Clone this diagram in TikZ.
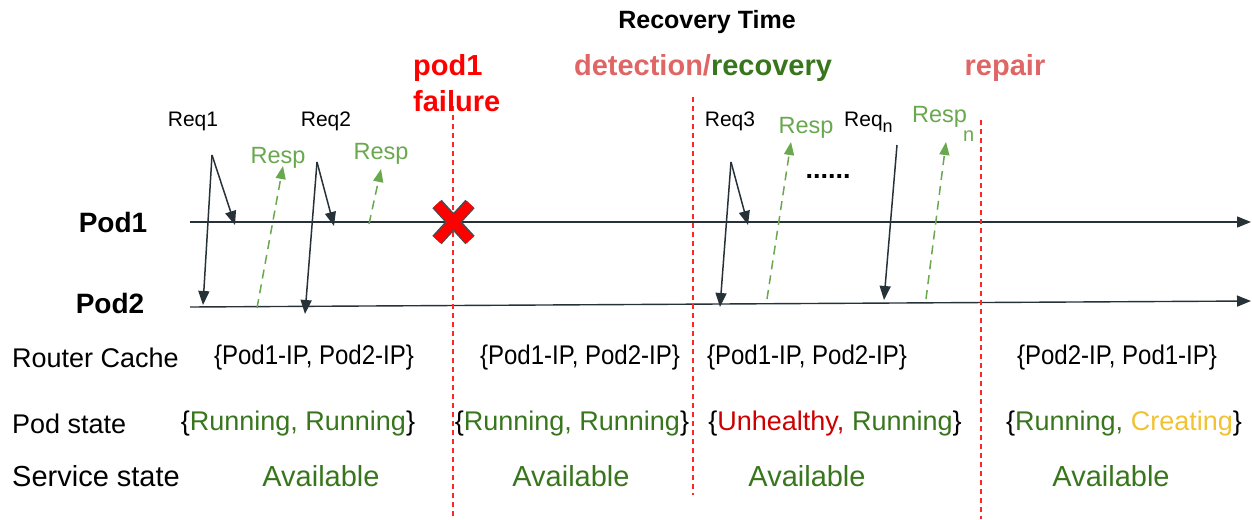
\documentclass[tikz,border=0pt]{standalone}
\usepackage{fontspec}
\usepackage{graphicx}
\setmainfont{Liberation Sans}
\usetikzlibrary{arrows.meta}
\definecolor{axis}{HTML}{263238}
\definecolor{respgreen}{HTML}{6AA84F}
\definecolor{okgreen}{HTML}{38761D}
\definecolor{pink}{HTML}{E06666}
\definecolor{failred}{HTML}{FF0000}
\definecolor{badred}{HTML}{CC0000}
\definecolor{ylw}{HTML}{F1C232}
\newcommand{\fs}[1]{\fontsize{#1}{#1}\selectfont}
\newcommand{\narrowtxt}[1]{\scalebox{0.89}[1]{#1}}
\begin{document}
\begin{tikzpicture}[x=1pt,y=-1pt,
  row/.style={inner sep=0pt, font=\fs{27}},
  iprow/.style={inner sep=0pt, font=\fs{27}},
  big/.style={inner sep=0pt, font=\fs{29}\bfseries},
  small/.style={inner sep=0pt, font=\fs{21}},
  respl/.style={inner sep=0pt, font=\fs{23.5}, text=respgreen},
  podl/.style={inner sep=0pt, font=\fs{28}\bfseries},
  timeline/.style={draw=axis, line width=1.4pt, -{Triangle[length=14pt,width=11pt]}},
  reqarrow/.style={draw=axis, line width=1.5pt, -{Triangle[length=14pt,width=11pt]}},
  resparrow/.style={draw=respgreen, line width=1.5pt, dash pattern=on 9pt off 6pt, -{Triangle[length=13pt,width=10pt]}},
  phase/.style={draw=failred!85, line width=1.2pt, dash pattern=on 5pt off 4pt}
]
\useasboundingbox (0,0) rectangle (1252,519);

% timelines
\coordinate (p1s) at (190,222);
\coordinate (p1e) at (1251,222);
\coordinate (p2s) at (190,307);
\coordinate (p2e) at (1251,301);
\draw[timeline] (p1s) -- (p1e);
\draw[timeline] (p2s) -- (p2e);
\node[podl] (pod1) at (113,222) {Pod1};
\node[podl] (pod2) at (110,303) {Pod2};

% phase separators
\coordinate (s1t) at (453,106); \coordinate (s1b) at (453,519);
\coordinate (s2t) at (693,97);  \coordinate (s2b) at (693,495);
\coordinate (s3t) at (981,120); \coordinate (s3b) at (981,519);
\draw[phase] (s1t) -- (s1b);
\draw[phase] (s2t) -- (s2b);
\draw[phase] (s3t) -- (s3b);

% headings
\node[inner sep=0pt, font=\fs{25}\bfseries] (rt) at (707,22) {Recovery Time};
\node[big, text=failred, anchor=west] (pf1) at (413,68) {pod1};
\node[big, text=failred, anchor=west] (pf2) at (413,101) {failure};
\node[big] (dr) at (703,68) {\textcolor{pink}{detection/}\textcolor{okgreen}{recovery}};
\node[big, text=pink] (rep) at (1005,68) {repair};

% red X
\coordinate (xa) at (437,204); \coordinate (xb) at (470,240);
\coordinate (xc) at (470,204); \coordinate (xd) at (437,240);
\draw[line width=12.5pt, draw=black!70] (xa) -- (xb) (xc) -- (xd);
\draw[line width=9.5pt, draw=failred] (xa) -- (xb) (xc) -- (xd);

% Req1
\node[small] (req1) at (193,121) {Req1};
\coordinate (r1t) at (212,155);
\coordinate (r1a) at (235,225);
\coordinate (r1b) at (203,305);
\draw[reqarrow] (r1t) -- (r1a);
\draw[reqarrow] (r1t) -- (r1b);
\node[respl] (resp1) at (278,158) {Resp};
\coordinate (rs1s) at (257,308);
\coordinate (rs1e) at (283,166);
\draw[resparrow] (rs1s) -- (rs1e);

% Req2
\node[small] (req2) at (326,121) {Req2};
\coordinate (r2t) at (317,162);
\coordinate (r2a) at (334,226);
\coordinate (r2b) at (305,314);
\draw[reqarrow] (r2t) -- (r2a);
\draw[reqarrow] (r2t) -- (r2b);
\node[respl] (resp2) at (381,154) {Resp};
\coordinate (rs2s) at (369,224);
\coordinate (rs2e) at (381,169);
\draw[resparrow] (rs2s) -- (rs2e);

% Req3
\node[small] (req3) at (730,121) {Req3};
\coordinate (r3t) at (731,162);
\coordinate (r3a) at (748,225);
\coordinate (r3b) at (720,307);
\draw[reqarrow] (r3t) -- (r3a);
\draw[reqarrow] (r3t) -- (r3b);
\node[respl] (resp3) at (806,128) {Resp};
\coordinate (rs3s) at (767,299);
\coordinate (rs3e) at (791,142);
\draw[resparrow] (rs3s) -- (rs3e);

\node[inner sep=0pt, font=\fs{27}\bfseries] (dots) at (828,176) {......};

% Req n
\node[small, anchor=west] (reqn) at (844,122) {Req\raisebox{-0.3em}{\fs{18}n}};
\coordinate (rnt) at (897,145);
\coordinate (rnb) at (884,300);
\draw[reqarrow] (rnt) -- (rnb);
\node[respl, anchor=west] (respn) at (912,124) {Resp\hspace{-4pt}\raisebox{-0.8em}{\fs{20}n}};
\coordinate (rsns) at (926,299);
\coordinate (rsne) at (946,142);
\draw[resparrow] (rsns) -- (rsne);

% rows
\node[row, anchor=west] (rc) at (12,358) {Router Cache};
\node[row, anchor=west] (ps) at (12,424) {Pod state};
\node[row, anchor=west, font=\fs{29}] (ss) at (12,476) {Service state};

\node[iprow] (rc1) at (314,358) {\narrowtxt{\{Pod1-IP, Pod2-IP\}}};
\node[iprow] (rc2) at (580,358) {\narrowtxt{\{Pod1-IP, Pod2-IP\}}};
\node[iprow] (rc3) at (807,358) {\narrowtxt{\{Pod1-IP, Pod2-IP\}}};
\node[iprow] (rc4) at (1117,358) {\narrowtxt{\{Pod2-IP, Pod1-IP\}}};

\node[row] (st1) at (298,424) {\{\textcolor{okgreen}{Running, Running}\}};
\node[row] (st2) at (572,424) {\{\textcolor{okgreen}{Running, Running}\}};
\node[row] (st3) at (835,424) {\{\textcolor{badred}{Unhealthy,} \textcolor{okgreen}{Running}\}};
\node[row] (st4) at (1124,424) {\{\textcolor{okgreen}{Running,} \textcolor{ylw}{Creating}\}};

\node[row, font=\fs{29}, text=okgreen] (av1) at (321,476) {Available};
\node[row, font=\fs{29}, text=okgreen] (av2) at (571,476) {Available};
\node[row, font=\fs{29}, text=okgreen] (av3) at (807,476) {Available};
\node[row, font=\fs{29}, text=okgreen] (av4) at (1111,476) {Available};
\end{tikzpicture}
\end{document}
